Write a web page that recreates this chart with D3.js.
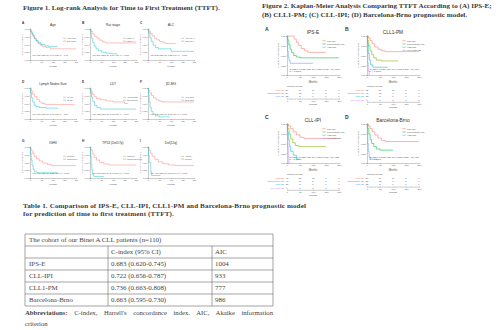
<!DOCTYPE html>
<html>
<head>
<meta charset="utf-8">
<script src="https://cdn.jsdelivr.net/npm/d3@7"></script>
<style>
  body { margin: 0; background: #fff; }
  svg { display: block; }
  .serif { font-family: "Liberation Serif", "Times New Roman", serif; }
  .sans { font-family: "Liberation Sans", Arial, sans-serif; }
</style>
</head>
<body>
<svg id="chart" width="500" height="330"></svg>
<script>
// ---- Figure 1: univariate log-rank panels ----
const fig1Letters = ['A', 'B', 'C', 'D', 'E', 'F', 'G', 'H', 'I'];
const fig1Titles = ['Age', 'Rai stage', 'ALC', 'Lymph Nodes Size', 'LDT', 'β2-MG', 'IGHV', 'TP53 (Del17p)', 'Del(11q)'];
const fig1Legends = [
    ['<65 years', '≥65 years'], ['Stage 0', 'Stage I-II'], ['<30×10⁹/L', '≥30×10⁹/L'],
    ['<5 cm', '≥5 cm'], ['>12 months', '≤12 months'], ['<3.5 mg/L', '≥3.5 mg/L'],
    ['Mutated', 'Unmutated'], ['Wildtype', 'Mutated/deleted'], ['Absent', 'Present']
];
const fig1Stats = [
    'HR: 1.21 (95% CI: 0.74-1.98), p = 0.45', 'HR: 2.84 (95% CI: 1.69-4.77), p < 0.001',
    'HR: 2.02 (95% CI: 1.22-3.34), p = 0.006', 'HR: 1.93 (95% CI: 1.17-3.18), p = 0.01',
    'HR: 1.88 (95% CI: 1.13-3.11), p = 0.014', 'HR: 4.35 (95% CI: 2.51-7.54), p < 0.001',
    'HR: 3.96 (95% CI: 2.28-6.87), p < 0.001', 'HR: 5.12 (95% CI: 2.41-10.9), p < 0.001',
    'HR: 4.67 (95% CI: 2.09-10.4), p < 0.001'
];

// survival steps: [months, probability]
const ageCurves = [
    [[0, 1], [3, 0.93], [8, 0.85], [14, 0.76], [20, 0.68], [28, 0.6], [36, 0.53], [45, 0.47], [55, 0.43], [70, 0.4], [90, 0.36], [200, 0.36]],
    [[0, 1], [4, 0.9], [10, 0.8], [18, 0.7], [26, 0.63], [35, 0.56], [48, 0.5], [65, 0.46], [80, 0.44], [120, 0.44]]
];
const raiCurves = [
    [[0, 1], [5, 0.92], [12, 0.84], [20, 0.76], [30, 0.7], [40, 0.64], [55, 0.58], [70, 0.55], [200, 0.55]],
    [[0, 1], [3, 0.85], [7, 0.7], [12, 0.57], [18, 0.45], [26, 0.36], [36, 0.3], [50, 0.25], [70, 0.22], [95, 0.2], [120, 0.2]]
];
const alcCurves = [
    [[0, 1], [4, 0.93], [10, 0.85], [18, 0.78], [28, 0.7], [38, 0.65], [50, 0.6], [65, 0.55], [80, 0.53], [120, 0.53]],
    [[0, 1], [3, 0.87], [8, 0.72], [14, 0.6], [22, 0.48], [32, 0.4], [45, 0.36], [100, 0.28], [200, 0.28]]
];
const lymphCurves = [
    [[0, 1], [5, 0.9], [12, 0.8], [20, 0.72], [30, 0.63], [40, 0.55], [52, 0.5], [65, 0.47], [195, 0.47]],
    [[0, 1], [3, 0.85], [7, 0.68], [12, 0.55], [18, 0.45], [26, 0.4], [40, 0.37], [70, 0.35], [120, 0.33]]
];
const ldtCurves = [
    [[0, 1], [4, 0.9], [10, 0.8], [18, 0.72], [28, 0.66], [45, 0.62], [70, 0.58], [100, 0.55], [150, 0.5], [165, 0.5]],
    [[0, 1], [3, 0.85], [7, 0.7], [12, 0.56], [20, 0.44], [30, 0.37], [45, 0.32], [200, 0.32]]
];
const b2mgCurves = [
    [[0, 1], [3, 0.92], [8, 0.84], [15, 0.76], [24, 0.68], [35, 0.62], [48, 0.58], [60, 0.55], [200, 0.55]],
    [[0, 1], [2, 0.8], [5, 0.55], [9, 0.38], [14, 0.25], [22, 0.16], [32, 0.1], [50, 0.07], [95, 0.07]]
];
const ighvCurves = [
    [[0, 1], [4, 0.9], [10, 0.8], [18, 0.7], [28, 0.62], [40, 0.55], [55, 0.48], [75, 0.43], [95, 0.4], [200, 0.4]],
    [[0, 1], [2, 0.8], [5, 0.58], [9, 0.4], [14, 0.27], [20, 0.2], [30, 0.17], [120, 0.17]]
];
const tp53Curves = [
    [[0, 1], [4, 0.9], [10, 0.78], [18, 0.67], [28, 0.58], [42, 0.5], [60, 0.45], [85, 0.42], [200, 0.42]],
    [[0, 1], [2, 0.7], [5, 0.45], [8, 0.25], [12, 0.12], [16, 0.05], [60, 0.05]]
];
const del11qCurves = [
    [[0, 1], [4, 0.9], [10, 0.8], [18, 0.7], [30, 0.6], [45, 0.52], [65, 0.46], [90, 0.42], [120, 0.4], [200, 0.4]],
    [[0, 1], [2, 0.75], [5, 0.5], [8, 0.5], [12, 0.2], [16, 0.08], [55, 0.08]]
];
const fig1Curves = [ageCurves, raiCurves, alcCurves, lymphCurves, ldtCurves, b2mgCurves, ighvCurves, tp53Curves, del11qCurves];

// ---- Figure 2: prognostic models ----
const fig2Letters = ['A', 'B', 'C', 'D'];
const fig2Titles = ['IPS-E', 'CLL1-PM', 'CLL-IPI', 'Barcelona-Brno'];
const fig2Groups = [
    ['Low risk', 'Intermediate risk', 'High risk'],
    ['Low risk', 'Intermediate risk', 'High risk', 'Very high risk'],
    ['Low risk', 'Intermediate risk', 'High risk', 'Very high risk'],
    ['Low risk', 'Intermediate risk', 'High risk']
];
const ipseCurves = [
    [[0, 1], [22, 1], [28, 0.92], [36, 0.84], [45, 0.76], [55, 0.68], [68, 0.62], [80, 0.58], [150, 0.58]],
    [[0, 1], [3, 0.9], [7, 0.78], [12, 0.66], [18, 0.57], [26, 0.5], [36, 0.46], [50, 0.44], [200, 0.44]],
    [[0, 1], [1, 0.8], [3, 0.6], [5, 0.45], [8, 0.37], [12, 0.3], [100, 0.3]]
];
const cll1pmCurves = [
    [[0, 1], [5, 0.95], [12, 0.88], [20, 0.8], [30, 0.72], [42, 0.66], [55, 0.62], [70, 0.6], [200, 0.6]],
    [[0, 1], [3, 0.88], [7, 0.74], [12, 0.62], [18, 0.52], [26, 0.44], [36, 0.38], [55, 0.36], [120, 0.36]],
    [[0, 1], [2, 0.8], [5, 0.55], [9, 0.38], [14, 0.26], [22, 0.2], [80, 0.2]],
    [[0, 1], [1, 0.6], [3, 0.3], [5, 0.1], [8, 0], [10, 0]]
];
const cllipiCurves = [
    [[0, 1], [6, 0.95], [14, 0.88], [24, 0.8], [36, 0.72], [50, 0.66], [65, 0.63], [200, 0.63]],
    [[0, 1], [3, 0.88], [8, 0.74], [14, 0.62], [22, 0.52], [32, 0.45], [45, 0.42], [150, 0.42]],
    [[0, 1], [2, 0.8], [5, 0.6], [9, 0.42], [14, 0.3], [24, 0.2], [36, 0.1], [50, 0.1]],
    [[0, 1], [1, 0.7], [3, 0.4], [5, 0.15], [7, 0], [12, 0]]
];
const brnoCurves = [
    [[0, 1], [5, 0.95], [12, 0.88], [20, 0.8], [30, 0.72], [42, 0.64], [55, 0.58], [70, 0.55], [200, 0.55]],
    [[0, 1], [3, 0.88], [7, 0.74], [12, 0.6], [18, 0.5], [26, 0.42], [36, 0.36], [50, 0.33], [100, 0.33]],
    [[0, 1], [1, 0.75], [3, 0.5], [5, 0.3], [8, 0.15], [12, 0.1], [40, 0.1]]
];
const fig2Curves = [ipseCurves, cll1pmCurves, cllipiCurves, brnoCurves];
const fig2CIndex = ['0.683', '0.736', '0.722', '0.663'];
const fig2CI = ['0.620-0.745', '0.663-0.808', '0.656-0.787', '0.595-0.730'];
const fig2AIC = ['1004', '777', '933', '986'];
const riskTimes = [0, 50, 100, 150, 200];
const ipseAtRisk = [[29, 19, 11, 3, 0], [59, 15, 7, 2, 0], [22, 3, 1, 0, 0]];
const cll1pmAtRisk = [[38, 21, 12, 3, 0], [41, 12, 6, 2, 0], [23, 3, 1, 0, 0], [8, 0, 0, 0, 0]];
const cllipiAtRisk = [[43, 23, 13, 4, 0], [40, 10, 5, 1, 0], [20, 2, 1, 0, 0], [7, 0, 0, 0, 0]];
const brnoAtRisk = [[36, 19, 11, 3, 0], [52, 13, 6, 2, 0], [22, 2, 1, 0, 0]];
const fig2AtRisk = [ipseAtRisk, cll1pmAtRisk, cllipiAtRisk, brnoAtRisk];

// ---- Table 1 ----
const tableModels = ['IPS-E', 'CLL-IPI', 'CLL1-PM', 'Barcelona-Brno'];
const tableCIndex = ['0.683 (0.620-0.745)', '0.722 (0.656-0.787)', '0.736 (0.663-0.808)', '0.663 (0.595-0.730)'];
const tableAIC = ['1004', '933', '777', '986'];

const svg = d3.select('#chart');
const textColor = '#3a3a3a';
const twoColors = ['#F8766D', '#00BFC4'];
const threeColors = ['#F8766D', '#00BA38', '#619CFF'];
const fourColors = ['#F8766D', '#7CAE00', '#00BFC4', '#C77CFF'];

// headings
function heading(lines, x, y, size, lh, ls) {
    const t = svg.append('text').attr('class', 'serif')
        .attr('x', x).attr('y', y).attr('letter-spacing', ls || 0)
        .attr('font-size', size).attr('font-weight', 'bold').attr('fill', textColor);
    lines.forEach((l, i) => t.append('tspan').attr('x', x).attr('dy', i ? lh : 0).text(l));
}
heading(['Figure 1. Log-rank Analysis for Time to First Treatment (TTFT).'], 23, 9.5, 7.1, 8);
heading(['Figure 2. Kaplan-Meier Analysis Comparing TTFT According to (A) IPS-E;',
    '(B) CLL1-PM; (C) CLL-IPI; (D) Barcelona-Brno prognostic model.'], 262, 8, 7.1, 8.6);
heading(['Table 1. Comparison of IPS-E, CLL-IPI, CLL1-PM and Barcelona-Brno prognostic model',
    'for prediction of time to first treatment (TTFT).'], 23, 208, 7.1, 8.4, 0.12);

// generic KM plot
function kmPlot(opt) {
    const g = svg.append('g').attr('class', 'sans');
    const x = d3.scaleLinear().domain([0, 200]).range([opt.x, opt.x + opt.w]);
    const y = d3.scaleLinear().domain([0, 1]).range([opt.y + opt.h, opt.y]);
    const fs = opt.fs;

    const yAxis = g.append('g').attr('transform', `translate(${opt.x},0)`)
        .call(d3.axisLeft(y).tickValues([0, 0.25, 0.5, 0.75, 1]).tickFormat(d3.format('.2f'))
            .tickSize(0.8).tickPadding(0.6));
    const xAxis = g.append('g').attr('transform', `translate(0,${opt.y + opt.h})`)
        .call(d3.axisBottom(x).tickValues([0, 50, 100, 150, 200]).tickSize(0.8).tickPadding(0.5));
    [yAxis, xAxis].forEach(a => {
        a.selectAll('path,line').attr('stroke', '#555').attr('stroke-width', 0.3);
        a.selectAll('text').attr('font-size', fs).attr('fill', '#555');
    });

    g.append('text').attr('x', opt.x + opt.w / 2).attr('y', opt.y + opt.h + fs * 3.2)
        .attr('text-anchor', 'middle').attr('font-size', fs * 1.1).attr('fill', '#555').text('Months');
    g.append('text')
        .attr('transform', `translate(${opt.x - fs * 3.4},${opt.y + opt.h / 2}) rotate(-90)`)
        .attr('text-anchor', 'middle').attr('font-size', fs).attr('fill', '#555')
        .text('Time to First Treatment');

    const line = d3.line().x(d => x(d[0])).y(d => y(d[1])).curve(d3.curveStepAfter);
    opt.curves.forEach((c, i) => {
        g.append('path').datum(c).attr('d', line)
            .attr('fill', 'none').attr('stroke', opt.colors[i]).attr('stroke-width', opt.lw);
    });

    // legend
    const lx = opt.x + opt.w * opt.legX, ly = opt.y + opt.h * opt.legY;
    opt.legend.forEach((t, i) => {
        const yy = ly + i * fs * 1.35;
        g.append('line').attr('x1', lx).attr('x2', lx + fs * 1.4).attr('y1', yy).attr('y2', yy)
            .attr('stroke', opt.colors[i]).attr('stroke-width', opt.lw);
        g.append('text').attr('x', lx + fs * 1.8).attr('y', yy + fs * 0.35)
            .attr('font-size', fs).attr('fill', '#555').text(t);
    });

    // stats text
    opt.stats.forEach((t, i) => {
        g.append('text').attr('x', opt.x + opt.w * 0.05).attr('y', opt.y + opt.h * 0.86 + i * fs * 1.2)
            .attr('font-size', fs).attr('fill', '#444').text(t);
    });

    // title and panel letter
    g.append('text').attr('x', opt.x + opt.w / 2).attr('y', opt.y - opt.titleGap)
        .attr('text-anchor', 'middle').attr('font-size', opt.titleFs).attr('fill', '#333').text(opt.title);
    g.append('text').attr('x', opt.letterX).attr('y', opt.y - opt.letterGap)
        .attr('font-size', opt.letterFs).attr('font-weight', 'bold').attr('fill', '#333').text(opt.letter);
    return {g, x};
}

// Figure 1 grid
const f1ColX = [30, 90, 148];
const f1RowY = [29, 88, 147];
fig1Curves.forEach((curves, i) => {
    const c = i % 3, r = Math.floor(i / 3);
    kmPlot({
        x: f1ColX[c], y: f1RowY[r], w: 46, h: 31, fs: 2.1, lw: 0.45,
        curves, colors: twoColors, legend: fig1Legends[i], legX: 0.72, legY: 0.3,
        stats: [fig1Stats[i]], title: fig1Titles[i], titleGap: 3, titleFs: 3.3,
        letter: fig1Letters[i], letterX: f1ColX[c] - 8, letterGap: 5, letterFs: 3.2
    });
});

// Figure 2 grid
const f2ColX = [287, 367];
const f2RowY = [36, 124];
fig2Curves.forEach((curves, i) => {
    const c = i % 2, r = Math.floor(i / 2);
    const colors = curves.length === 3 ? threeColors : fourColors;
    const px = f2ColX[c], py = f2RowY[r], pw = 52, ph = 39;
    const {g, x} = kmPlot({
        x: px, y: py, w: pw, h: ph, fs: 2.4, lw: 0.55,
        curves, colors, legend: fig2Groups[i], legX: 0.68, legY: 0.12,
        stats: [`C-index: ${fig2CIndex[i]}; 95% CI: ${fig2CI[i]}; AIC: ${fig2AIC[i]}`, 'p < 0.0001'],
        title: fig2Titles[i], titleGap: 2.5, titleFs: 4.8,
        letter: fig2Letters[i], letterX: px - 22, letterGap: 5, letterFs: 5
    });

    // number-at-risk table
    const top = py + ph + 12;
    g.append('text').attr('x', px).attr('y', top).attr('font-size', 2.4).attr('fill', '#555').text('Number at risk');
    const rows = fig2AtRisk[i];
    const ry = d3.scaleBand().domain(d3.range(rows.length)).range([top + 1.5, top + 1.5 + rows.length * 3.2]);
    rows.forEach((vals, k) => {
        const yy = ry(k) + ry.bandwidth() * 0.8;
        g.append('text').attr('x', px - 3).attr('y', yy).attr('text-anchor', 'end')
            .attr('font-size', 2.3).attr('fill', colors[k]).text(fig2Groups[i][k]);
        vals.forEach((v, j) => {
            g.append('text').attr('x', x(riskTimes[j])).attr('y', yy).attr('text-anchor', 'middle')
                .attr('font-size', 2.3).attr('fill', '#555').text(v);
        });
    });
    const axY = top + 2 + rows.length * 3.2;
    const ax = g.append('g').attr('transform', `translate(0,${axY})`)
        .call(d3.axisBottom(x).tickValues(riskTimes).tickSize(0.8).tickPadding(0.5));
    ax.selectAll('path,line').attr('stroke', '#555').attr('stroke-width', 0.3);
    ax.selectAll('text').attr('font-size', 2.3).attr('fill', '#555');
    g.append('text').attr('x', px + pw / 2).attr('y', axY + 6.5).attr('text-anchor', 'middle')
        .attr('font-size', 2.5).attr('fill', '#555').text('Months');
});

// Table 1
const tX = [25, 108, 212, 273];
const rowY = d3.scaleBand().domain(d3.range(6)).range([234, 306]);
const tbl = svg.append('g').attr('class', 'serif').attr('font-size', 6.9).attr('fill', '#444');
const rule = (x1, y1, x2, y2) => tbl.append('line').attr('x1', x1).attr('y1', y1).attr('x2', x2).attr('y2', y2)
    .attr('stroke', '#6a6a6a').attr('stroke-width', 0.6);
d3.range(7).forEach(k => rule(tX[0], 234 + k * rowY.bandwidth(), tX[3], 234 + k * rowY.bandwidth()));
rule(tX[0], 234, tX[0], 306);
rule(tX[3], 234, tX[3], 306);
rule(tX[1], rowY(1), tX[1], 306);
rule(tX[2], rowY(1), tX[2], 306);
const cellY = k => rowY(k) + rowY.bandwidth() / 2 + 2.3;
tbl.append('text').attr('x', tX[0] + 4).attr('y', cellY(0)).text('The cohort of our Binet A CLL patients (n=110)');
tbl.append('text').attr('x', tX[1] + 3).attr('y', cellY(1)).text('C-index (95% CI)');
tbl.append('text').attr('x', tX[2] + 3).attr('y', cellY(1)).text('AIC');
tableModels.forEach((m, k) => {
    tbl.append('text').attr('x', tX[0] + 4).attr('y', cellY(k + 2)).text(m);
    tbl.append('text').attr('x', tX[1] + 3).attr('y', cellY(k + 2)).text(tableCIndex[k]);
    tbl.append('text').attr('x', tX[2] + 3).attr('y', cellY(k + 2)).text(tableAIC[k]);
});

// justified footnote: stretch the word gaps to the table width
const abbr = svg.append('text').attr('class', 'serif').attr('x', 25).attr('y', 315)
    .attr('font-size', 6.7).attr('fill', '#444');
abbr.append('tspan').attr('font-weight', 'bold').text('Abbreviations:');
abbr.append('tspan').text(' C-index, Harrell\'s concordance index. AIC, Akaike information');
const gaps = 7;
const spare = 248 - abbr.node().getComputedTextLength();
abbr.attr('word-spacing', Math.max(0, spare / gaps));
svg.append('text').attr('class', 'serif').attr('x', 25).attr('y', 326)
    .attr('font-size', 6.7).attr('fill', '#444').text('criterion');
</script>
</body>
</html>
